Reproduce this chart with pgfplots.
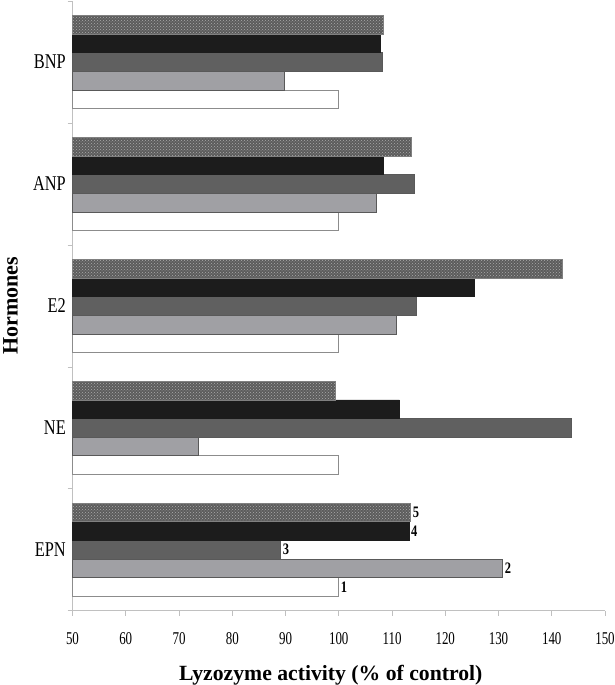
\documentclass[border=0pt]{standalone}
\usepackage{fontspec}
\setmainfont{Liberation Serif}
\newfontfamily\tickfont[FakeStretch=0.72]{Liberation Serif}
\newfontfamily\catfont[FakeStretch=0.78]{Liberation Serif}
\usepackage{pgfplots}
\pgfplotsset{compat=1.18}
\usetikzlibrary{patterns}
\definecolor{barA}{HTML}{FFFFFF}
\definecolor{barB}{HTML}{A0A0A4}
\definecolor{barC}{HTML}{606060}
\definecolor{barD}{HTML}{1C1C1C}
\definecolor{barE}{HTML}{5C5C5C}
\definecolor{dotE}{HTML}{ABABAB}
\definecolor{axgray}{HTML}{C0C0C0}

\begin{document}
\begin{tikzpicture}
  \useasboundingbox (-72.5pt,-74.3pt) rectangle (541.5pt,610.7pt);
  \begin{axis}[
    at={(0pt,0pt)}, anchor=south west,
    scale only axis,
    width=532.5pt, height=609.7pt,
    xbar, bar width=0.153,
    xmin=50, xmax=150,
    ymin=-0.5, ymax=4.5,
    xtick={50,60,...,150},
    ytick={0,1,2,3,4},
    yticklabels={EPN,NE,E2,ANP,BNP},
    minor ytick={-0.5,0.5,1.5,2.5,3.5,4.5},
    axis x line*=bottom,
    axis y line*=left,
    axis line style={axgray, line width=0.8pt, -},
    major tick length=5pt,
    minor tick length=5pt,
    tick align=outside,
    major y tick style={draw=none},
    minor y tick style={draw=axgray, line width=0.6pt},
    xtick style={axgray, line width=0.8pt},
    /pgf/number format/assume math mode=true,
    xticklabel style={font=\tickfont\fontsize{18}{18}\selectfont,
      inner sep=0pt, anchor=north, yshift=-17pt},
    yticklabel style={font=\catfont\fontsize{21}{21}\selectfont,
      inner sep=0pt, anchor=east, xshift=-1.5pt},
    xlabel={\bfseries\fontsize{21.7}{21.7}\selectfont Lyzozyme activity (\% of control)},
    ylabel={\bfseries\fontsize{22}{22}\selectfont Hormones},
    xlabel style={at={(axis description cs:0.5,0)}, anchor=base, yshift=-69.3pt, xshift=-8pt},
    ylabel style={at={(axis description cs:0,0.5)}, anchor=center, yshift=62pt},
    clip=false,
    every axis plot/.append style={draw=black!65, line width=0.6pt},
  ]
    % 1: white
    \addplot[fill=barA, draw=black!45, bar shift=-0.306] coordinates
      {(100,0) (100,1) (100,2) (100,3) (100,4)};
    % 2: light gray
    \addplot[fill=barB, bar shift=-0.153] coordinates
      {(130.8,0) (73.7,1) (110.8,2) (107.1,3) (89.8,4)};
    % 3: dark gray
    \addplot[fill=barC, bar shift=0] coordinates
      {(89.1,0) (143.6,1) (114.5,2) (114.2,3) (108.1,4)};
    % 4: black
    \addplot[fill=barD, draw=barD, bar shift=0.153] coordinates
      {(113.2,0) (111.4,1) (125.5,2) (108.3,3) (107.8,4)};
    % 5: stippled
    \addplot[fill=barE, draw=black!50, bar shift=0.306,
      postaction={pattern=crosshatch dots, pattern color=dotE}] coordinates
      {(113.5,0) (99.4,1) (141.9,2) (113.6,3) (108.3,4)};

    \begin{scope}[every node/.style={anchor=west, inner sep=2pt, font=\catfont\bfseries\fontsize{16}{16}\selectfont}]
      \node at (axis cs:100,-0.306) {1};
      \node at (axis cs:130.8,-0.153) {2};
      \node at (axis cs:89.1,0) {3};
      \node at (axis cs:113.2,0.153) {4};
      \node at (axis cs:113.5,0.306) {5};
    \end{scope}
  \end{axis}
\end{tikzpicture}
\end{document}
